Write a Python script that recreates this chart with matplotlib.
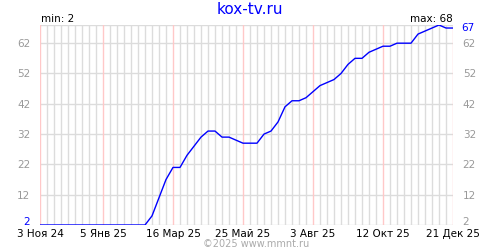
import datetime as dt
import matplotlib
matplotlib.use("Agg")
import matplotlib.pyplot as plt

# weekly values, starting 3 Nov 2024
start = dt.date(2024, 11, 3)
values = [2, 2, 2, 2, 2, 2, 2, 2, 2, 2, 2, 2, 2, 2, 2, 2,
          5, 11, 17, 21, 21, 25, 28, 31, 33, 33, 31, 31, 30, 29,
          29, 29, 32, 33, 36, 41, 43, 43, 44, 46, 48, 49, 50, 52,
          55, 57, 57, 59, 60, 61, 61, 62, 62, 62, 65, 66, 67, 68,
          67, 67]
dates = [start + dt.timedelta(weeks=i) for i in range(len(values))]
month_names = ["Янв", "Фев", "Мар", "Апр", "Май", "Июн",
               "Июл", "Авг", "Сен", "Окт", "Ноя", "Дек"]
y_ticks = [2, 12, 22, 32, 42, 52, 62]

fig = plt.figure(figsize=(5, 2.5), dpi=100)
ax = fig.add_axes([40 / 500, 25 / 250, 413 / 500, 200 / 250])
ax.set_xlim(dates[0], dates[-1])
ax.set_ylim(2, 68)

# labelled weeks: first one plus every 10th counted back from the last
n = len(dates)
label_idx = sorted(set([0] + list(range((n - 1) % 10, n, 10))))

# grid: gray weekly lines, pink on labelled weeks
for i, d in enumerate(dates):
    if i in label_idx:
        ax.axvline(d, color="#ffc8c8", lw=1, zorder=1)
    else:
        ax.axvline(d, color="#dcdcdc", lw=1, zorder=0)
for v in y_ticks + [68]:
    ax.axhline(v, color="#dcdcdc", lw=1, zorder=0)

ax.plot(dates, values, color="#0000ff", lw=1, zorder=3)

for s in ax.spines.values():
    s.set_visible(False)

label_dates = [dates[i] for i in label_idx]
ax.set_xticks(label_dates)
ax.set_xticklabels(["%d %s %s" % (d.day, month_names[d.month - 1], str(d.year)[2:])
                    for d in label_dates])
ax.set_yticks(y_ticks)
ax.set_yticklabels([str(v) for v in y_ticks])
ax.tick_params(axis="x", length=0, pad=3, labelsize=7.5, colors="black")
ax.tick_params(axis="y", length=0, pad=7, labelsize=7.5, labelcolor="#999999",
               left=True, right=True, labelleft=True, labelright=True)
# bottom "2": blue on the left, and kept clear of the date labels
first = ax.yaxis.get_major_ticks()[0]
first.label1.set_color("#0000ff")
first.label1.set_va("baseline")
first.label2.set_va("baseline")

# last value on the right side
ax.annotate(str(values[-1]), xy=(1, values[-1]), xycoords=("axes fraction", "data"),
            xytext=(6, 0), textcoords="offset points", ha="left", va="center",
            color="#0000ff", fontsize=7.5)

fig.text(0.5, 1 - 9 / 250, "kox-tv.ru", ha="center", va="center",
         color="#0000ff", fontsize=11)
fig.text(41 / 500, 1 - 19 / 250, "min: %d" % min(values), ha="left", va="center",
         fontsize=7.5)
fig.text(453 / 500, 1 - 19 / 250, "max: %d" % max(values), ha="right", va="center",
         fontsize=7.5)
fig.text(256 / 500, 1 - 244 / 250, "©2025 www.mmnt.ru", ha="center", va="center",
         color="#aaaaaa", fontsize=7)

fig.savefig("out.png", dpi=100)
